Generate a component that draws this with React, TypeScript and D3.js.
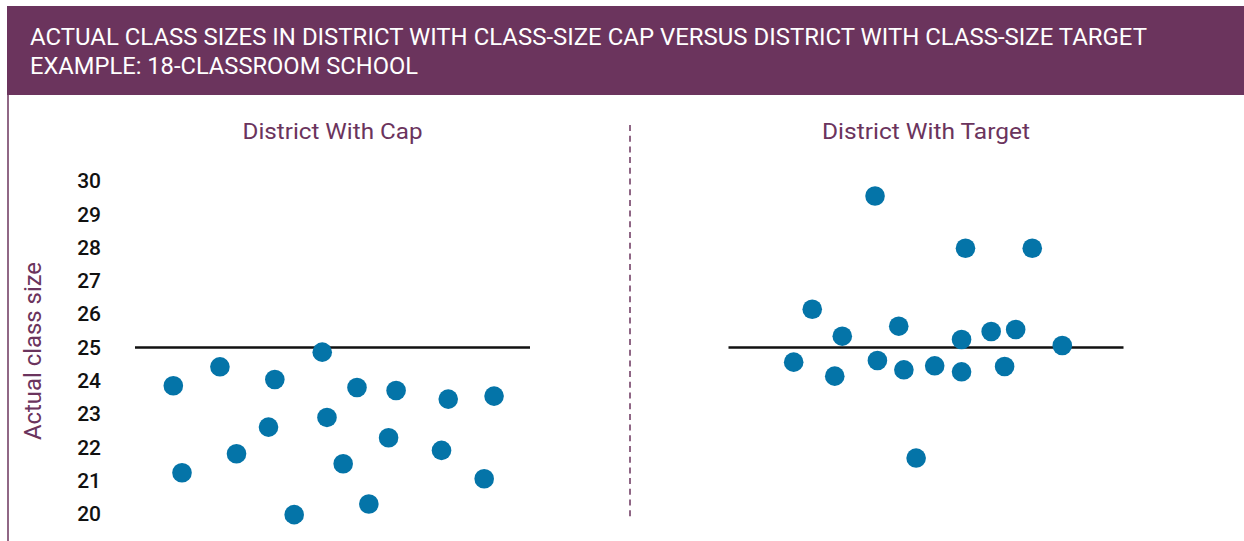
import React, { useEffect, useRef } from "react";
import * as d3 from "d3";

// 18-classroom example: horizontal jitter position (0-100) and actual class size
const capX = [9.7, 21.5, 35.4, 47.4, 56.2, 66.1, 79.3, 90.9, 48.6, 33.8, 64.2, 25.7, 77.6, 11.9, 52.7, 88.4, 59.2, 40.3];
const capSizes = [23.85, 24.42, 24.04, 24.86, 23.8, 23.71, 23.45, 23.54, 22.9, 22.61, 22.29, 21.81, 21.91, 21.24, 21.51, 21.06, 20.3, 19.98];

const targetX = [37.1, 60.0, 76.9, 21.2, 28.8, 43.1, 59.0, 66.5, 72.7, 84.5, 16.5, 26.9, 37.7, 44.4, 52.2, 59.0, 69.9, 47.5];
const targetSizes = [29.55, 27.98, 27.98, 26.15, 25.34, 25.64, 25.24, 25.48, 25.54, 25.06, 24.56, 24.14, 24.61, 24.33, 24.45, 24.27, 24.43, 21.68];

const panelTitles = ["District With Cap", "District With Target"];
const referenceLine = 25;
const yTicks = [20, 21, 22, 23, 24, 25, 26, 27, 28, 29, 30];
const titleLines = [
  "ACTUAL CLASS SIZES IN DISTRICT WITH CLASS-SIZE CAP VERSUS DISTRICT WITH CLASS-SIZE TARGET",
  "EXAMPLE: 18-CLASSROOM SCHOOL",
];

const purple = "#6b345d";
const dotColor = "#0474a8";
const font = "Roboto, 'DejaVu Sans', sans-serif";

const App = () => {
  const chartRef = useRef<SVGSVGElement>(null);

  useEffect(() => {
    const svg = d3.select(chartRef.current);
    svg.selectAll("*").remove();

    // header band
    svg.append("rect").attr("x", 7).attr("y", 6).attr("width", 1237).attr("height", 89).attr("fill", purple);
    const titleWidths = [1117, 388];
    titleLines.forEach((t, i) => {
      svg
        .append("text")
        .attr("x", 30)
        .attr("y", 45 + i * 29)
        .attr("fill", "#fff")
        .attr("textLength", titleWidths[i])
        .attr("lengthAdjust", "spacingAndGlyphs")
        .style("font-family", font)
        .style("font-size", "23px")
        .text(t);
    });

    // left border
    svg.append("line").attr("x1", 8).attr("x2", 8).attr("y1", 95).attr("y2", 541).attr("stroke", purple).attr("stroke-width", 1.5);

    // divider
    svg
      .append("line")
      .attr("x1", 630)
      .attr("x2", 630)
      .attr("y1", 125)
      .attr("y2", 521)
      .attr("stroke", purple)
      .attr("stroke-width", 1.5)
      .attr("stroke-dasharray", "6,4.7");

    const y = d3.scaleLinear().domain([20, 30]).range([514, 181]);
    const x = d3.scaleLinear().domain([0, 100]).range([0, 395]);

    // y axis
    const axis = svg
      .append("g")
      .attr("transform", "translate(101,0)")
      .call(d3.axisLeft(y).tickValues(yTicks).tickSize(0).tickPadding(0).tickFormat(d3.format("d")));
    axis.select(".domain").remove();
    axis
      .selectAll("text")
      .attr("fill", "#111")
      .style("font-family", font)
      .style("font-size", "21px")
      .style("font-weight", 500);

    svg
      .append("text")
      .attr("transform", "translate(41,351) rotate(-90)")
      .attr("text-anchor", "middle")
      .attr("fill", purple)
      .attr("textLength", 178)
      .attr("lengthAdjust", "spacingAndGlyphs")
      .style("font-family", font)
      .style("font-size", "23px")
      .text("Actual class size");

    const panels = [
      { left: 135, xs: capX, ys: capSizes, w: 180 },
      { left: 728.5, xs: targetX, ys: targetSizes, w: 208 },
    ];

    panels.forEach((p, i) => {
      const g = svg.append("g").attr("transform", `translate(${p.left},0)`);

      g.append("text")
        .attr("x", x(50))
        .attr("y", 139)
        .attr("text-anchor", "middle")
        .attr("fill", purple)
        .attr("textLength", p.w)
        .attr("lengthAdjust", "spacingAndGlyphs")
        .style("font-family", font)
        .style("font-size", "22px")
        .text(panelTitles[i]);

      g.append("line")
        .attr("x1", x(0))
        .attr("x2", x(100))
        .attr("y1", y(referenceLine))
        .attr("y2", y(referenceLine))
        .attr("stroke", "#111")
        .attr("stroke-width", 2.5);

      g.selectAll("circle")
        .data(p.ys.map((v, k) => ({ v, pos: p.xs[k] })))
        .enter()
        .append("circle")
        .attr("cx", (d) => x(d.pos))
        .attr("cy", (d) => y(d.v))
        .attr("r", 9.8)
        .attr("fill", dotColor);
    });
  }, []);

  return (
    <svg
      ref={chartRef}
      width={1244}
      height={541}
      style={{ position: "absolute", left: 0, top: 0, display: "block", background: "#fff" }}
    ></svg>
  );
};

export default App;
